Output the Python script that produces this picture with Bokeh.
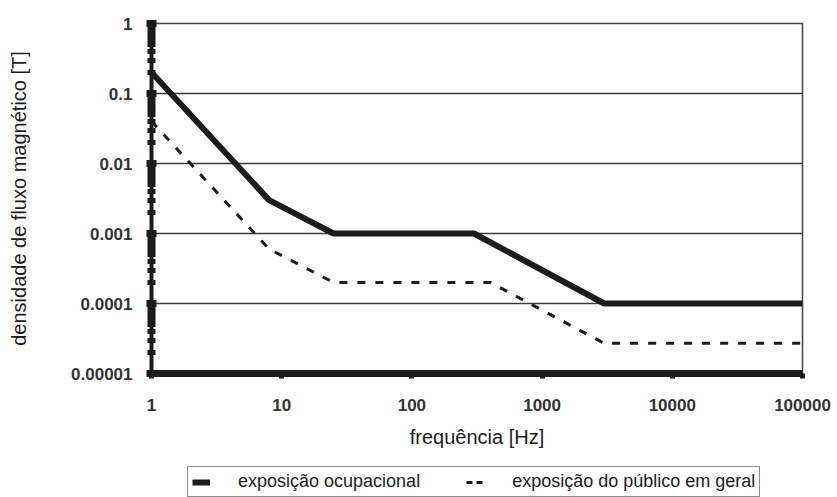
from bokeh.plotting import figure
from bokeh.layouts import column
from bokeh.models import (FixedTicker, CustomJSTickFormatter, Legend, LegendItem)
from bokeh.embed import file_html
from bokeh.resources import INLINE

# ---- data ----
freq_occ = [1, 8, 25, 300, 3000, 100000]
b_occ = [0.2, 0.003, 0.001, 0.001, 0.0001, 0.0001]

freq_pub = [1, 8, 25, 400, 3000, 100000]
b_pub = [0.04, 0.0006, 0.0002, 0.0002, 0.000027, 0.000027]

x_ticks = [1, 10, 100, 1000, 10000, 100000]
x_tick_labels = ["1", "10", "100", "1000", "10000", "100000"]
y_ticks = [0.00001, 0.0001, 0.001, 0.01, 0.1, 1]
y_tick_labels = ["0.00001", "0.0001", "0.001", "0.01", "0.1", "1"]

label_occ = "exposição ocupacional"
label_pub = "exposição do público em geral"
x_title = "frequência [Hz]"
y_title = "densidade de fluxo magnético [T]"

FONT = "Liberation Sans"
INK = "#1c1c1c"
W = 835

p = figure(width=W, height=460, x_axis_type="log", y_axis_type="log",
           x_range=(1, 100000), y_range=(0.00001, 1),
           output_backend="svg", toolbar_location=None,
           min_border_left=151, min_border_right=33,
           min_border_top=23, min_border_bottom=87)
p.background_fill_color = "white"
p.border_fill_color = "white"
p.outline_line_color = "#444444"
p.outline_line_width = 1.5

JS = """
let best = -1, bd = 1e9;
for (let i = 0; i < tv.length; i++) {
  const d = Math.abs(Math.log10(tv[i]) - Math.log10(tick));
  if (d < bd) { bd = d; best = i; }
}
return bd < 1e-6 ? tl[best] : "";
"""

# x axis
xa = p.xaxis[0]
xa.ticker = FixedTicker(ticks=x_ticks, minor_ticks=[])
xa.formatter = CustomJSTickFormatter(args=dict(tv=x_ticks, tl=x_tick_labels), code=JS)
xa.axis_line_width = 7
xa.axis_line_color = INK
xa.major_tick_in = 0
xa.major_tick_out = 5
xa.major_tick_line_width = 5
xa.major_tick_line_color = INK
xa.minor_tick_line_color = None
xa.major_label_text_font = FONT
xa.major_label_text_font_style = "bold"
xa.major_label_text_font_size = "17px"
xa.major_label_text_color = "#333333"
xa.major_label_standoff = 20
xa.axis_label = x_title
xa.axis_label_text_font = FONT
xa.axis_label_text_font_style = "normal"
xa.axis_label_text_font_size = "20px"
xa.axis_label_text_color = INK
xa.axis_label_standoff = 12

# y axis
minor_y = []
for d in y_ticks[:-1]:
    for m in range(2, 10):
        minor_y.append(d * m)
ya = p.yaxis[0]
ya.ticker = FixedTicker(ticks=y_ticks, minor_ticks=minor_y)
ya.formatter = CustomJSTickFormatter(args=dict(tv=y_ticks, tl=y_tick_labels), code=JS)
ya.axis_line_width = 4
ya.axis_line_color = INK
ya.major_tick_in = 5
ya.major_tick_out = 5
ya.major_tick_line_width = 7
ya.major_tick_line_color = INK
ya.minor_tick_in = 4
ya.minor_tick_out = 4
ya.minor_tick_line_width = 5
ya.minor_tick_line_color = INK
ya.major_label_text_font = FONT
ya.major_label_text_font_style = "bold"
ya.major_label_text_font_size = "17px"
ya.major_label_text_color = "#333333"
ya.major_label_standoff = 14
ya.axis_label = y_title
ya.axis_label_text_font = FONT
ya.axis_label_text_font_style = "normal"
ya.axis_label_text_font_size = "20px"
ya.axis_label_text_color = INK
ya.axis_label_standoff = 38

p.xgrid.grid_line_color = None
p.ygrid.grid_line_color = "#3a3a3a"
p.ygrid.grid_line_width = 1.5
p.ygrid.ticker = FixedTicker(ticks=y_ticks)

p.line(freq_pub, b_pub, line_color=INK, line_width=3, line_dash="8 10")
p.line(freq_occ, b_occ, line_color=INK, line_width=6)

# ---- legend strip below the chart (series drawn outside its view, used only as legend keys) ----
lg = figure(width=W, height=37, output_backend="svg", toolbar_location=None,
            x_axis_location=None, y_axis_location=None, min_border=0,
            x_range=(-1, 0), y_range=(-1, 0))
lg.outline_line_color = None
lg.grid.grid_line_color = None
lg.background_fill_color = "white"
lg.border_fill_color = "white"
k_occ = lg.line(freq_occ, b_occ, line_color=INK, line_width=6)
k_pub = lg.line(freq_pub, b_pub, line_color=INK, line_width=3, line_dash="6 4")

legend = Legend(items=[LegendItem(label=label_occ, renderers=[k_occ]),
                       LegendItem(label=label_pub, renderers=[k_pub])],
                orientation="horizontal", location=(36, 0))
legend.label_text_font = FONT
legend.label_text_font_size = "18px"
legend.label_text_color = INK
legend.glyph_width = 18
legend.glyph_height = 20
legend.label_height = 20
legend.label_standoff = 28
legend.spacing = 46
legend.padding = 4
legend.margin = 0
legend.border_line_color = INK
legend.border_line_width = 1.5
legend.background_fill_alpha = 1
lg.add_layout(legend, "center")

open("out.html", "w").write(file_html(column(p, lg, spacing=0), INLINE))
